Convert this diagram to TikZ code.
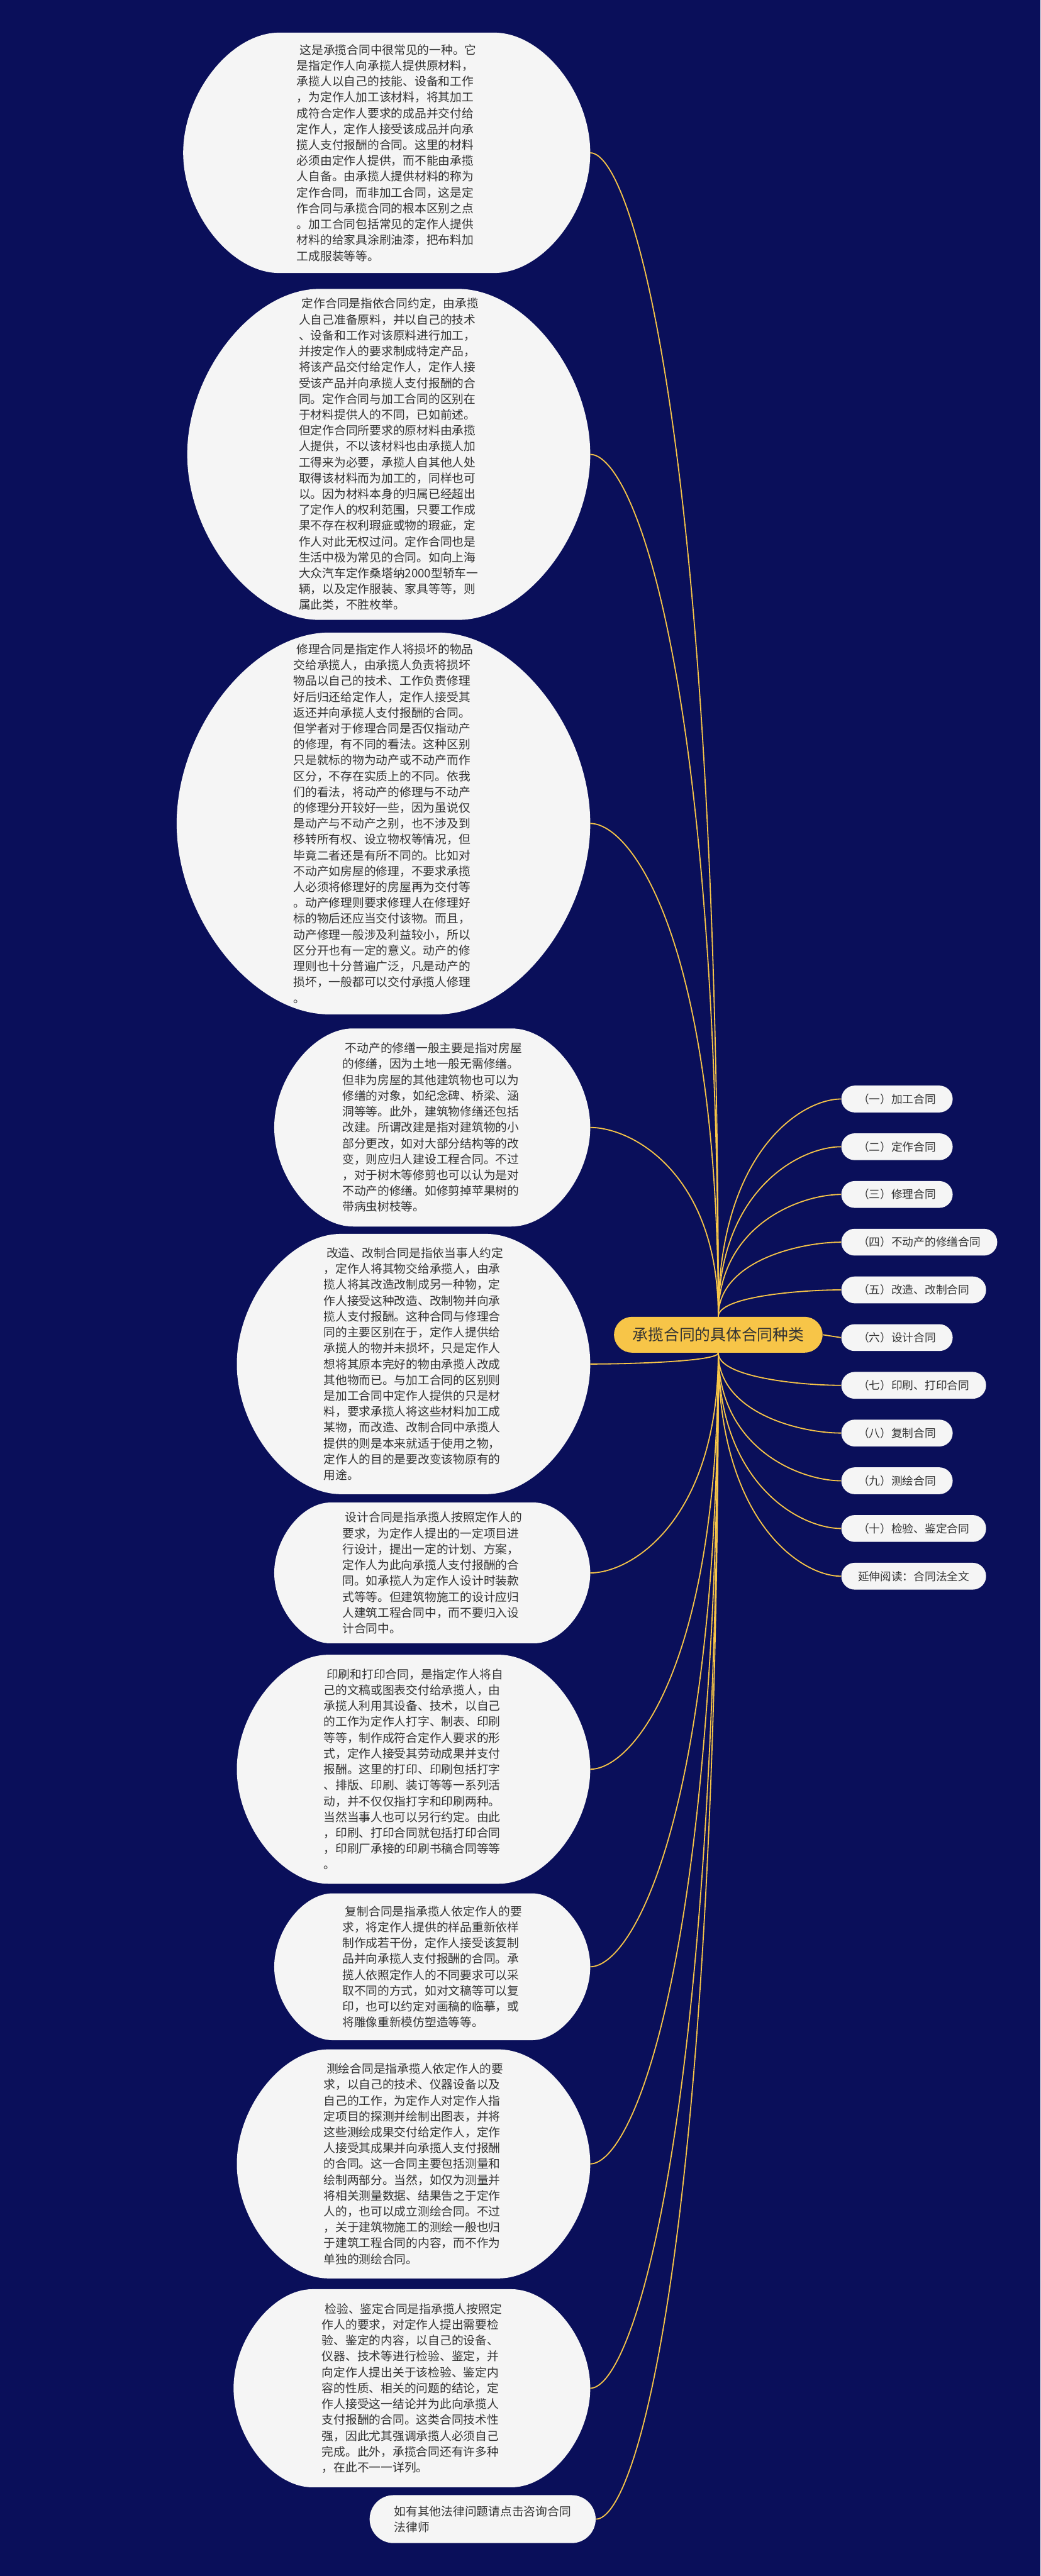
\documentclass[tikz,border=0pt]{standalone}
\usepackage{fontspec}
\setmainfont{Noto Sans CJK SC}
\usepackage{xcolor}
\usepackage{tikz}
\usetikzlibrary{positioning,backgrounds,calc}
\definecolor{mapNavy}{HTML}{0A0F5A}
\definecolor{mapGold}{HTML}{F7C548}
\definecolor{mapGray}{HTML}{F5F5F5}
\definecolor{mapInk}{HTML}{333333}
\tikzset{
  burbuja/.style={align=left, text=mapInk, font=\fontsize{8.25}{11.1}\selectfont, inner sep=0pt, anchor=east},
  tipo/.style={fill=mapGray, rounded corners=3.3mm, minimum height=6.6mm, inner xsep=4.1mm, inner ysep=0pt, text=mapInk, font=\fontsize{7.8}{9}\selectfont, anchor=west},
  centro/.style={fill=mapGold, rounded corners=4.4mm, minimum width=5.13cm, minimum height=8.8mm, text=mapInk, font=\fontsize{10.9}{12}\selectfont},
  enlace/.style={draw=mapGold, line width=0.8pt},
}
% contorno de burbuja: #1 nodo, #2 ancho de la esquina
\newcommand{\forma}[2]{%
  \fill[mapGray] ([xshift=#2]#1.north west) -- ([xshift=-#2]#1.north east)
    .. controls ([xshift=-0.5*#2]#1.north east) and ($(#1.east)!0.5!(#1.north east)$) .. (#1.east)
    .. controls ($(#1.east)!0.5!(#1.south east)$) and ([xshift=-0.5*#2]#1.south east) .. ([xshift=-#2]#1.south east)
    -- ([xshift=#2]#1.south west)
    .. controls ([xshift=0.5*#2]#1.south west) and ($(#1.west)!0.5!(#1.south west)$) .. (#1.west)
    .. controls ($(#1.west)!0.5!(#1.north west)$) and ([xshift=0.5*#2]#1.north west) .. cycle;
}
\begin{document}
\begin{tikzpicture}
\node[centro] (hub) at (17.67,-32.84) {承揽合同的具体合同种类};

% tipos de contrato
\node[tipo] (r1) at (20.69,-27.04) {（一）加工合同};
\node[tipo, below=5mm of r1.south west, anchor=north west] (r2) {（二）定作合同};
\node[tipo, below=5mm of r2.south west, anchor=north west] (r3) {（三）修理合同};
\node[tipo, below=5mm of r3.south west, anchor=north west] (r4) {（四）不动产的修缮合同};
\node[tipo, below=5mm of r4.south west, anchor=north west] (r5) {（五）改造、改制合同};
\node[tipo, below=5mm of r5.south west, anchor=north west] (r6) {（六）设计合同};
\node[tipo, below=5mm of r6.south west, anchor=north west] (r7) {（七）印刷、打印合同};
\node[tipo, below=5mm of r7.south west, anchor=north west] (r8) {（八）复制合同};
\node[tipo, below=5mm of r8.south west, anchor=north west] (r9) {（九）测绘合同};
\node[tipo, below=5mm of r9.south west, anchor=north west] (r10) {（十）检验、鉴定合同};
\node[tipo, below=5mm of r10.south west, anchor=north west] (r11) {延伸阅读：合同法全文};

% textos
\node[burbuja, minimum width=10cm, minimum height=5.9cm] (b1) at (14.52,-3.76) {\hspace{.25em}这是承揽合同中很常见的一种。它\\是指定作人向承揽人提供原材料，\\承揽人以自己的技能、设备和工作\\，为定作人加工该材料，将其加工\\成符合定作人要求的成品并交付给\\定作人，定作人接受该成品并向承\\揽人支付报酬的合同。这里的材料\\必须由定作人提供，而不能由承揽\\人自备。由承揽人提供材料的称为\\定作合同，而非加工合同，这是定\\作合同与承揽合同的根本区别之点\\。加工合同包括常见的定作人提供\\材料的给家具涂刷油漆，把布料加\\工成服装等等。};
\node[burbuja, minimum width=9.9cm, minimum height=8.13cm] (b2) at (14.52,-11.18) {\hspace{.25em}定作合同是指依合同约定，由承揽\\人自己准备原料，并以自己的技术\\、设备和工作对该原料进行加工，\\并按定作人的要求制成特定产品，\\将该产品交付给定作人，定作人接\\受该产品并向承揽人支付报酬的合\\同。定作合同与加工合同的区别在\\于材料提供人的不同，已如前述。\\但定作合同所要求的原材料由承揽\\人提供，不以该材料也由承揽人加\\工得来为必要，承揽人自其他人处\\取得该材料而为加工的，同样也可\\以。因为材料本身的归属已经超出\\了定作人的权利范围，只要工作成\\果不存在权利瑕疵或物的瑕疵，定\\作人对此无权过问。定作合同也是\\生活中极为常见的合同。如向上海\\大众汽车定作桑塔纳2000型轿车一\\辆，以及定作服装、家具等等，则\\属此类，不胜枚举。};
\node[burbuja, minimum width=10.16cm, minimum height=9.38cm] (b3) at (14.52,-20.26) {\hspace{.25em}修理合同是指定作人将损坏的物品\\交给承揽人，由承揽人负责将损坏\\物品以自己的技术、工作负责修理\\好后归还给定作人，定作人接受其\\返还并向承揽人支付报酬的合同。\\但学者对于修理合同是否仅指动产\\的修理，有不同的看法。这种区别\\只是就标的物为动产或不动产而作\\区分，不存在实质上的不同。依我\\们的看法，将动产的修理与不动产\\的修理分开较好一些，因为虽说仅\\是动产与不动产之别，也不涉及到\\移转所有权、设立物权等情况，但\\毕竟二者还是有所不同的。比如对\\不动产如房屋的修理，不要求承揽\\人必须将修理好的房屋再为交付等\\。动产修理则要求修理人在修理好\\标的物后还应当交付该物。而且，\\动产修理一般涉及利益较小，所以\\区分开也有一定的意义。动产的修\\理则也十分普遍广泛，凡是动产的\\损坏，一般都可以交付承揽人修理\\。};
\node[burbuja, minimum width=7.76cm, minimum height=4.86cm] (b4) at (14.52,-27.74) {\hspace{.25em}不动产的修缮一般主要是指对房屋\\的修缮，因为土地一般无需修缮。\\但非为房屋的其他建筑物也可以为\\修缮的对象，如纪念碑、桥梁、涵\\洞等等。此外，建筑物修缮还包括\\改建。所谓改建是指对建筑物的小\\部分更改，如对大部分结构等的改\\变，则应归人建设工程合同。不过\\，对于树木等修剪也可以认为是对\\不动产的修缮。如修剪掉苹果树的\\带病虫树枝等。};
\node[burbuja, minimum width=8.68cm, minimum height=6.39cm] (b5) at (14.52,-33.56) {\hspace{.25em}改造、改制合同是指依当事人约定\\，定作人将其物交给承揽人，由承\\揽人将其改造改制成另一种物，定\\作人接受这种改造、改制物并向承\\揽人支付报酬。这种合同与修理合\\同的主要区别在于，定作人提供给\\承揽人的物并未损坏，只是定作人\\想将其原本完好的物由承揽人改成\\其他物而已。与加工合同的区别则\\是加工合同中定作人提供的只是材\\料，要求承揽人将这些材料加工成\\某物，而改造、改制合同中承揽人\\提供的则是本来就适于使用之物，\\定作人的目的是要改变该物原有的\\用途。};
\node[burbuja, minimum width=7.76cm, minimum height=3.45cm] (b6) at (14.52,-38.70) {\hspace{.25em}设计合同是指承揽人按照定作人的\\要求，为定作人提出的一定项目进\\行设计，提出一定的计划、方案，\\定作人为此向承揽人支付报酬的合\\同。如承揽人为定作人设计时装款\\式等等。但建筑物施工的设计应归\\人建筑工程合同中，而不要归入设\\计合同中。};
\node[burbuja, minimum width=8.68cm, minimum height=5.62cm] (b7) at (14.52,-43.53) {\hspace{.25em}印刷和打印合同，是指定作人将自\\己的文稿或图表交付给承揽人，由\\承揽人利用其设备、技术，以自己\\的工作为定作人打字、制表、印刷\\等等，制作成符合定作人要求的形\\式，定作人接受其劳动成果并支付\\报酬。这里的打印、印刷包括打字\\、排版、印刷、装订等等一系列活\\动，并不仅仅指打字和印刷两种。\\当然当事人也可以另行约定。由此\\，印刷、打印合同就包括打印合同\\，印刷厂承接的印刷书稿合同等等\\。};
\node[burbuja, minimum width=7.76cm, minimum height=3.6cm] (b8) at (14.52,-48.39) {\hspace{.25em}复制合同是指承揽人依定作人的要\\求，将定作人提供的样品重新依样\\制作成若干份，定作人接受该复制\\品并向承揽人支付报酬的合同。承\\揽人依照定作人的不同要求可以采\\取不同的方式，如对文稿等可以复\\印，也可以约定对画稿的临摹，或\\将雕像重新模仿塑造等等。};
\node[burbuja, minimum width=8.68cm, minimum height=5.62cm] (b9) at (14.52,-53.24) {\hspace{.25em}测绘合同是指承揽人依定作人的要\\求，以自己的技术、仪器设备以及\\自己的工作，为定作人对定作人指\\定项目的探测并绘制出图表，并将\\这些测绘成果交付给定作人，定作\\人接受其成果并向承揽人支付报酬\\的合同。这一合同主要包括测量和\\绘制两部分。当然，如仅为测量并\\将相关测量数据、结果告之于定作\\人的，也可以成立测绘合同。不过\\，关于建筑物施工的测绘一般也归\\于建筑工程合同的内容，而不作为\\单独的测绘合同。};
\node[burbuja, minimum width=8.76cm, minimum height=4.86cm] (b10) at (14.52,-58.76) {\hspace{.25em}检验、鉴定合同是指承揽人按照定\\作人的要求，对定作人提出需要检\\验、鉴定的内容，以自己的设备、\\仪器、技术等进行检验、鉴定，并\\向定作人提出关于该检验、鉴定内\\容的性质、相关的问题的结论，定\\作人接受这一结论并为此向承揽人\\支付报酬的合同。这类合同技术性\\强，因此尤其强调承揽人必须自己\\完成。此外，承揽合同还有许多种\\，在此不一一详列。};
\node[burbuja, fill=mapGray, rounded corners=5.9mm, minimum width=5.56cm, minimum height=1.18cm] (b11) at (14.66,-61.98) {如有其他法律问题请点击咨询合同\\法律师};

\begin{scope}[on background layer]
\fill[mapNavy] (0,0) rectangle (25.6,-63.38);
\forma{b1}{2.36cm}
\forma{b2}{3.25cm}
\forma{b3}{3.75cm}
\forma{b4}{1.94cm}
\forma{b5}{2.56cm}
\forma{b6}{1.38cm}
\forma{b7}{2.25cm}
\forma{b8}{1.44cm}
\forma{b9}{2.25cm}
\forma{b10}{1.94cm}

\draw[enlace] (hub.north) .. controls ($(hub.north)!0.75!(hub.north |- b1.east)$) and ([xshift=1.05cm]b1.east) .. (b1.east);
\draw[enlace] (hub.north) .. controls ($(hub.north)!0.75!(hub.north |- b2.east)$) and ([xshift=1.05cm]b2.east) .. (b2.east);
\draw[enlace] (hub.north) .. controls ($(hub.north)!0.75!(hub.north |- b3.east)$) and ([xshift=1.05cm]b3.east) .. (b3.east);
\draw[enlace] (hub.north) .. controls ($(hub.north)!0.75!(hub.north |- b4.east)$) and ([xshift=1.05cm]b4.east) .. (b4.east);
\draw[enlace] (hub.south) .. controls ($(hub.south)!0.75!(hub.south |- b5.east)$) and ([xshift=1.05cm]b5.east) .. (b5.east);
\draw[enlace] (hub.south) .. controls ($(hub.south)!0.75!(hub.south |- b6.east)$) and ([xshift=1.05cm]b6.east) .. (b6.east);
\draw[enlace] (hub.south) .. controls ($(hub.south)!0.75!(hub.south |- b7.east)$) and ([xshift=1.05cm]b7.east) .. (b7.east);
\draw[enlace] (hub.south) .. controls ($(hub.south)!0.75!(hub.south |- b8.east)$) and ([xshift=1.05cm]b8.east) .. (b8.east);
\draw[enlace] (hub.south) .. controls ($(hub.south)!0.75!(hub.south |- b9.east)$) and ([xshift=1.05cm]b9.east) .. (b9.east);
\draw[enlace] (hub.south) .. controls ($(hub.south)!0.75!(hub.south |- b10.east)$) and ([xshift=1.05cm]b10.east) .. (b10.east);
\draw[enlace] (hub.south) .. controls ($(hub.south)!0.75!(hub.south |- b11.east)$) and ([xshift=1.05cm]b11.east) .. (b11.east);

\draw[enlace] (hub.north) .. controls ($(hub.north)!0.75!(hub.north |- r1.west)$) and ([xshift=-1cm]r1.west) .. (r1.west);
\draw[enlace] (hub.north) .. controls ($(hub.north)!0.75!(hub.north |- r2.west)$) and ([xshift=-1cm]r2.west) .. (r2.west);
\draw[enlace] (hub.north) .. controls ($(hub.north)!0.75!(hub.north |- r3.west)$) and ([xshift=-1cm]r3.west) .. (r3.west);
\draw[enlace] (hub.north) .. controls ($(hub.north)!0.75!(hub.north |- r4.west)$) and ([xshift=-1cm]r4.west) .. (r4.west);
\draw[enlace] (hub.north) .. controls ($(hub.north)!0.75!(hub.north |- r5.west)$) and ([xshift=-1cm]r5.west) .. (r5.west);
\draw[enlace] (hub.east) -- (r6.west);
\draw[enlace] (hub.south) .. controls ($(hub.south)!0.75!(hub.south |- r7.west)$) and ([xshift=-1cm]r7.west) .. (r7.west);
\draw[enlace] (hub.south) .. controls ($(hub.south)!0.75!(hub.south |- r8.west)$) and ([xshift=-1cm]r8.west) .. (r8.west);
\draw[enlace] (hub.south) .. controls ($(hub.south)!0.75!(hub.south |- r9.west)$) and ([xshift=-1cm]r9.west) .. (r9.west);
\draw[enlace] (hub.south) .. controls ($(hub.south)!0.75!(hub.south |- r10.west)$) and ([xshift=-1cm]r10.west) .. (r10.west);
\draw[enlace] (hub.south) .. controls ($(hub.south)!0.75!(hub.south |- r11.west)$) and ([xshift=-1cm]r11.west) .. (r11.west);
\end{scope}
\end{tikzpicture}
\end{document}
